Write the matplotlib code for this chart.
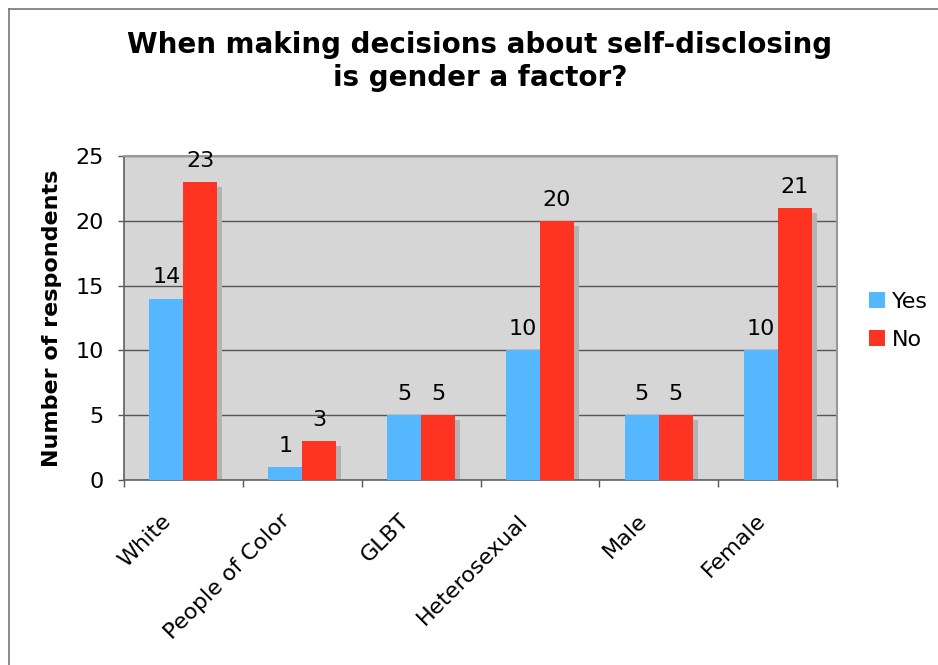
import matplotlib
matplotlib.use("Agg")
import matplotlib.pyplot as plt
import numpy as np
from matplotlib.lines import Line2D

categories = ["White", "People of Color", "GLBT", "Heterosexual", "Male", "Female"]
yes_vals = [14, 1, 5, 10, 5, 10]
no_vals = [23, 3, 5, 20, 5, 21]
series_names = ["Yes", "No"]
y_ticks = [0, 5, 10, 15, 20, 25]

BLUE = "#55b8ff"
RED = "#ff3322"
SHADOW = "#b3b3b3"
BG = "#d6d6d6"

plt.rcParams["font.family"] = ["DejaVu Sans"]

fig = plt.figure(figsize=(9.38, 6.65), dpi=100)
ax = fig.add_axes([124/938, 1-480/665, (837-124)/938, (480-156)/665])
ax.set_facecolor(BG)

x = np.arange(len(categories))
w = 0.286
sx = 0.042
sy = 0.4

for vals, off in [(yes_vals, -w/2), (no_vals, w/2)]:
    v = np.array(vals, dtype=float)
    ax.bar(x + off + sx, np.maximum(v - sy, 0), w, color=SHADOW, zorder=2, linewidth=0)

bars_yes = ax.bar(x - w/2, yes_vals, w, color=BLUE, zorder=3, linewidth=0, label=series_names[0])
bars_no = ax.bar(x + w/2, no_vals, w, color=RED, zorder=3, linewidth=0, label=series_names[1])

for bars, vals in [(bars_yes, yes_vals), (bars_no, no_vals)]:
    for b, v in zip(bars, vals):
        ax.annotate(str(v), (b.get_x() + b.get_width()/2, v), xytext=(0, 8),
                    textcoords="offset points", ha="center", va="bottom", fontsize=16, zorder=5)

ax.set_xlim(-0.5, len(categories) - 0.5)
ax.set_ylim(0, 25)
ax.set_yticks(y_ticks)
ax.set_yticklabels([str(t) for t in y_ticks], fontsize=16)
ax.yaxis.grid(True, color="#555555", linewidth=1.0, zorder=1)
ax.set_axisbelow(True)

# category labels (drawn as annotations to control placement)
ax.set_xticks(np.arange(-0.5, len(categories)))
ax.set_xticklabels([])
ax.tick_params(axis="x", length=5, color="#555555", width=1)
for i, c in enumerate(categories):
    ax.annotate(c, xy=(i, 0), xycoords=("data", "axes fraction"), xytext=(-11, -27),
                textcoords="offset points", rotation=45, ha="right", va="center",
                rotation_mode="anchor", fontsize=16, annotation_clip=False)
ax.tick_params(axis="y", length=4.5, color="#555555", width=1, pad=10)

for s in ["left", "bottom"]:
    ax.spines[s].set_color("#606060")
    ax.spines[s].set_linewidth(1.2)
for s in ["top", "right"]:
    ax.spines[s].set_color("#999999")
    ax.spines[s].set_linewidth(1.5)

ax.set_ylabel("Number of respondents", fontsize=16, fontweight="bold")
ax.yaxis.set_label_coords(62/938, 1-318/665, transform=fig.transFigure)

fig.text(480/938, 1-45/665, "When making decisions about self-disclosing", ha="center", va="center",
         fontsize=20, fontweight="bold")
fig.text(480/938, 1-78/665, "is gender a factor?", ha="center", va="center",
         fontsize=20, fontweight="bold")

leg = fig.legend(handles=[bars_yes, bars_no], labels=series_names, loc="upper left",
                 bbox_to_anchor=(851/938, 1-274/665), frameon=False, fontsize=16,
                 handlelength=0.75, handleheight=0.75, handletextpad=0.3, labelspacing=0.8,
                 borderpad=0.3)

fig.add_artist(Line2D([9/938, 9/938], [0, 1-9/665], color="#777777", linewidth=1.2, transform=fig.transFigure))
fig.add_artist(Line2D([9/938, 1], [1-9/665, 1-9/665], color="#777777", linewidth=1.2, transform=fig.transFigure))

fig.savefig("out.png", dpi=100)
